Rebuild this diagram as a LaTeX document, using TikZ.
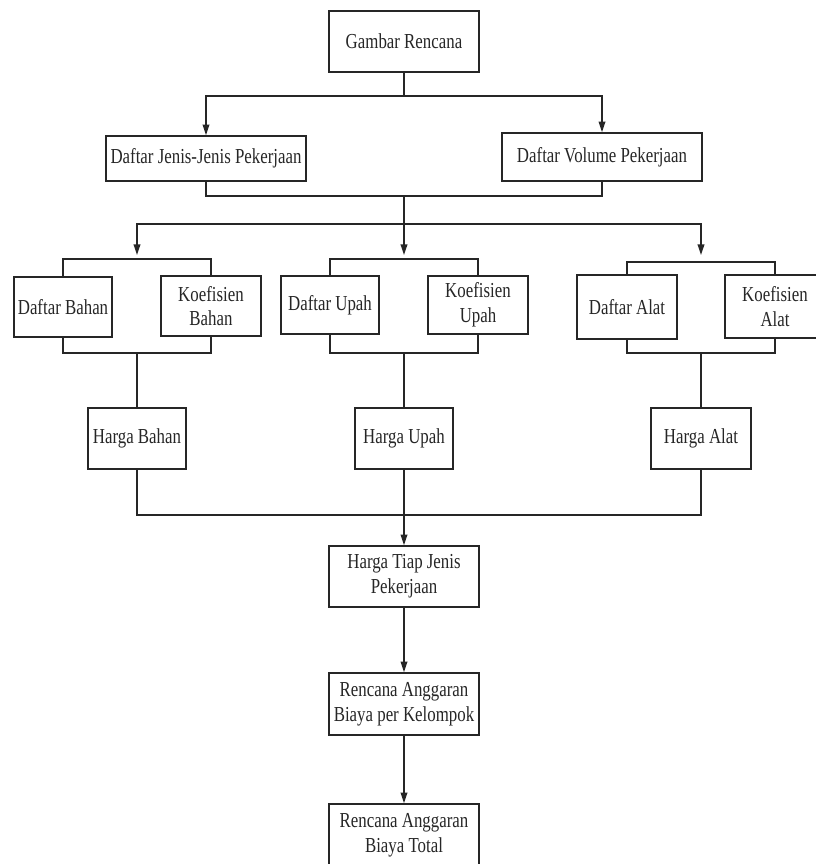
\documentclass[tikz,border=0pt]{standalone}
\usepackage{fontspec}
\setmainfont{Liberation Serif}[FakeStretch=0.79]
\usetikzlibrary{arrows.meta}
\tikzset{
  box/.style={draw=black!85, line width=1.2pt, align=center, inner sep=0pt,
    font=\fontsize{16}{18.5}\selectfont, text=black!85},
  conn/.style={draw=black!85, line width=1.2pt},
  arr/.style={conn, -{Triangle[length=8pt,width=5pt]}}
}
\newcommand\bx[6]{\node[box,minimum width=#4*0.75pt,minimum height=#5*0.75pt] (#1) at (#2,#3) {#6};}
\begin{document}
\begin{tikzpicture}[x=0.75pt,y=-0.75pt]
\useasboundingbox (0,0) rectangle (816,864);
\clip (0,0) rectangle (816,864);
% nodes
\bx{gr}{404}{41.5}{150}{61}{Gambar Rencana}
\bx{jenis}{206}{158.5}{200}{45}{Daftar Jenis-Jenis Pekerjaan}
\bx{vol}{602}{157}{200}{48}{Daftar Volume Pekerjaan}
\bx{dbahan}{63}{307}{98}{60}{Daftar Bahan}
\bx{kbahan}{211}{306}{100}{60}{Koefisien\\Bahan}
\bx{dupah}{330}{305}{98}{58}{Daftar Upah}
\bx{kupah}{478}{305}{100}{58}{Koefisien\\Upah}
\bx{dalat}{627}{307}{100}{64}{Daftar Alat}
\bx{kalat}{775}{306.5}{100}{63}{Koefisien\\Alat}
\bx{hbahan}{137}{438.5}{98}{61}{Harga Bahan}
\bx{hupah}{404}{438.5}{98}{61}{Harga Upah}
\bx{halat}{701}{438.5}{100}{61}{Harga Alat}
\bx{htiap}{404}{576.5}{150}{61}{Harga Tiap Jenis\\Pekerjaan}
\bx{rab1}{404}{704}{150}{62}{Rencana Anggaran\\Biaya per Kelompok}
\bx{rab2}{404}{835}{150}{62}{Rencana Anggaran\\Biaya Total}
% junction coordinates
\coordinate (j1) at (404,96);
\coordinate (j2) at (404,196);
\coordinate (j3) at (404,224);
\coordinate (tb) at (137,255);
\coordinate (tu) at (404,255);
\coordinate (ta) at (701,255);
\coordinate (jb) at (404,515);
% top level
\draw[conn] (gr.south) -- (j1);
\draw[arr] (j1) -| (jenis.north);
\draw[arr] (j1) -| (vol.north);
\draw[conn] (jenis.south) |- (j2) -| (vol.south);
\draw[conn] (j2) -- (j3);
\draw[arr] (j3) -| (tb);
\draw[arr] (j3) -- (tu);
\draw[arr] (j3) -| (ta);
% brackets
\draw[conn] (dbahan.north) |- (137,259) -| (kbahan.north);
\draw[conn] (dupah.north) |- (404,259) -| (kupah.north);
\draw[conn] (dalat.north) |- (701,262) -| (kalat.north);
\draw[conn] (dbahan.south) |- (137,353) -| (kbahan.south);
\draw[conn] (dupah.south) |- (404,353) -| (kupah.south);
\draw[conn] (dalat.south) |- (701,353) -| (kalat.south);
\draw[conn] (137,353) -- (hbahan.north);
\draw[conn] (404,353) -- (hupah.north);
\draw[conn] (701,353) -- (halat.north);
% merge
\draw[conn] (hbahan.south) |- (jb) -| (halat.south);
\draw[arr] (hupah.south) -- (htiap.north);
\draw[arr] (htiap.south) -- (rab1.north);
\draw[arr] (rab1.south) -- (rab2.north);
\end{tikzpicture}
\end{document}
